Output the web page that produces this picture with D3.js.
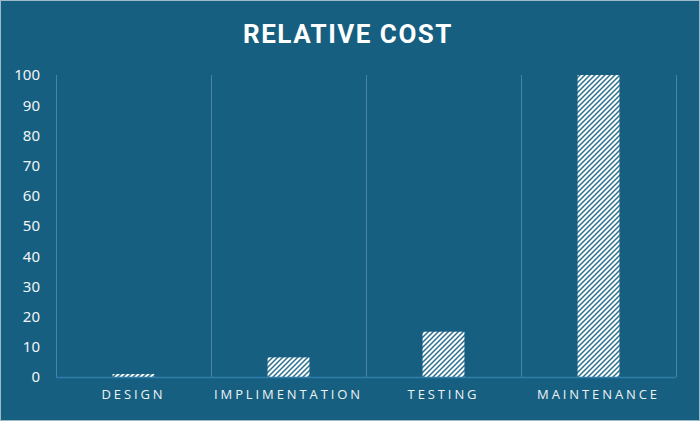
<!DOCTYPE html>
<html>
<head>
<meta charset="utf-8">
<script src="https://cdn.jsdelivr.net/npm/d3@7"></script>
<style>
  html, body { margin: 0; padding: 0; background: #ffffff; }
  svg { display: block; }
</style>
</head>
<body>
<svg id="chart" width="700" height="422"></svg>
<script>
var categories = ["DESIGN", "IMPLIMENTATION", "TESTING", "MAINTENANCE"];
var costValues = [1, 6.5, 15, 100];
var yTicks = [0, 10, 20, 30, 40, 50, 60, 70, 80, 90, 100];

(function()
{
    "use strict";

    const WIDTH = 700;
    const HEIGHT = 421;
    const BG = "#165f80";
    const HATCH = 5;

    var margin = { left: 56, right: 24, top: 75, bottom: 44 };
    var plotRight = WIDTH - margin.right;
    var plotBottom = HEIGHT - margin.bottom;

    var svg = d3.select("#chart");

    // Hatch pattern for the bars: "/" diagonals, blue on white
    var pattern = svg.append("defs")
        .append("pattern")
            .attr("id", "hatch")
            .attr("patternUnits", "userSpaceOnUse")
            .attr("width", HATCH)
            .attr("height", HATCH);
    pattern.append("rect")
        .attr("width", HATCH)
        .attr("height", HATCH)
        .attr("fill", "#ffffff");
    pattern.append("path")
        .attr("d", "M0," + HATCH + " L" + HATCH + ",0 M-1,1 L1,-1 M" + (HATCH - 1) + "," + (HATCH + 1) + " L" + (HATCH + 1) + "," + (HATCH - 1))
        .attr("stroke", "#2a6f90")
        .attr("stroke-width", 1.5);

    // Background
    svg.append("rect")
        .attr("x", 0.5)
        .attr("y", 0.5)
        .attr("width", WIDTH - 1)
        .attr("height", HEIGHT - 1)
        .attr("fill", BG)
        .attr("stroke", "#9fb9c8")
        .attr("stroke-width", 1);

    var x = d3.scaleBand()
        .domain(categories)
        .range([margin.left, plotRight])
        .paddingInner(0)
        .paddingOuter(0);

    var y = d3.scaleLinear()
        .domain([0, 100])
        .range([plotBottom, margin.top]);

    // Vertical separators between categories
    var seps = [margin.left].concat(categories.map(function(c) { return x(c) + x.bandwidth(); }));
    svg.append("g")
        .selectAll("line")
        .data(seps)
        .enter().append("line")
            .attr("x1", function(d) { return Math.round(d) + 0.5; })
            .attr("x2", function(d) { return Math.round(d) + 0.5; })
            .attr("y1", y(100))
            .attr("y2", plotBottom)
            .attr("stroke", "#4a84a0")
            .attr("stroke-width", 1);

    // Bars
    var barWidth = x.bandwidth() * 0.27;
    svg.append("g")
        .selectAll("rect")
        .data(costValues)
        .enter().append("rect")
            .attr("x", function(d, i) { return x(categories[i]) + (x.bandwidth() - barWidth) / 2; })
            .attr("y", function(d) { return y(d); })
            .attr("width", barWidth)
            .attr("height", function(d) { return plotBottom - y(d); })
            .attr("fill", "url(#hatch)");

    // Baseline
    svg.append("line")
        .attr("x1", margin.left)
        .attr("x2", plotRight)
        .attr("y1", plotBottom + 0.5)
        .attr("y2", plotBottom + 0.5)
        .attr("stroke", "#2d7ea8")
        .attr("stroke-width", 1.5);

    // Y axis
    var yAxis = svg.append("g")
        .attr("transform", "translate(" + (margin.left - 16) + ",0)")
        .call(d3.axisLeft(y).tickValues(yTicks).tickSize(0).tickPadding(0));
    yAxis.select(".domain").remove();
    yAxis.selectAll("text")
        .attr("fill", "#f2f5f7")
        .attr("font-family", "'Noto Sans', 'Open Sans', sans-serif")
        .attr("font-size", 15);

    // X axis
    var xAxis = svg.append("g")
        .attr("transform", "translate(0," + (plotBottom + 13) + ")")
        .call(d3.axisBottom(x).tickSize(0).tickPadding(0));
    xAxis.select(".domain").remove();
    xAxis.selectAll("text")
        .attr("fill", "#eef2f5")
        .attr("font-family", "'Open Sans', 'Noto Sans', sans-serif")
        .attr("font-size", 13)
        .attr("letter-spacing", "2.9px");

    // Title
    svg.append("text")
        .attr("x", 348)
        .attr("y", 43)
        .attr("text-anchor", "middle")
        .attr("fill", "#ffffff")
        .attr("font-family", "Roboto, 'Open Sans', sans-serif")
        .attr("font-weight", "bold")
        .attr("font-size", 26)
        .attr("letter-spacing", "1.5px")
        .text("RELATIVE COST");
})();
</script>
</body>
</html>
